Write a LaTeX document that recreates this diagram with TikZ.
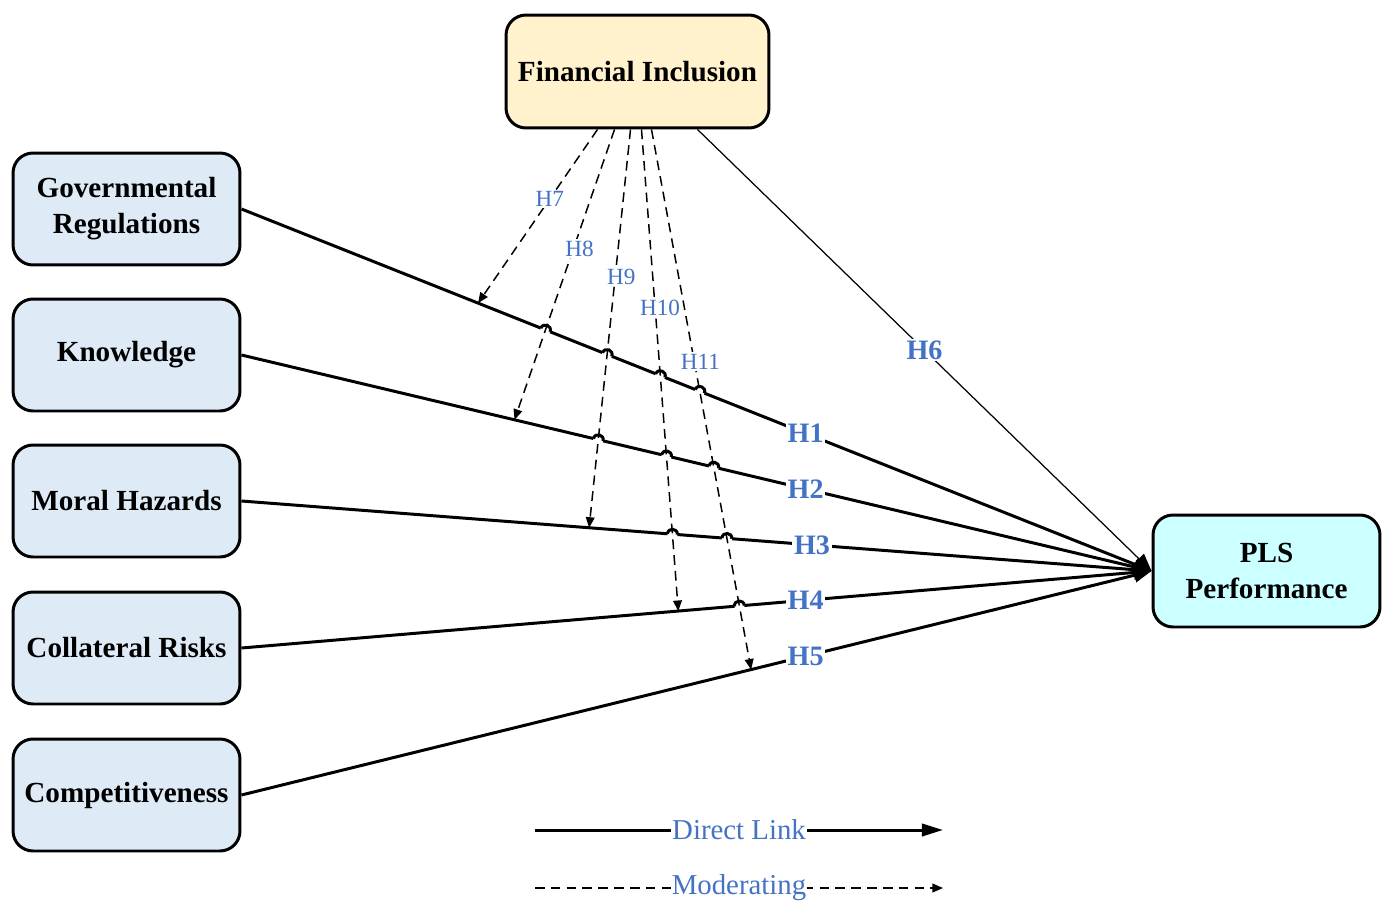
\documentclass[tikz,border=0pt]{standalone}
\usepackage{fontspec}
\setmainfont{Liberation Serif}
\usetikzlibrary{arrows.meta,intersections,calc}
\definecolor{hblue}{RGB}{68,114,196}
\definecolor{indepfill}{RGB}{222,235,247}
\definecolor{modfill}{RGB}{255,242,204}
\definecolor{depfill}{RGB}{204,255,255}
\begin{document}
\begin{tikzpicture}[
		x=0.02cm, y=-0.02cm,
		construct/.style={draw, line width=1.7pt, rounded corners=0.4cm, minimum width=4.54cm, minimum height=2.24cm, align=center, font=\fontsize{16.6}{20.5}\selectfont\bfseries},
		indep/.style={construct, fill=indepfill},
		direct/.style={line width=1.7pt, -{Triangle[length=10pt,width=8pt]}},
		moderate/.style={line width=0.85pt, dash pattern=on 5.5pt off 3.5pt, -{Triangle[length=6pt,width=5pt]}},
		hlabel/.style={fill=white, inner sep=1pt, text=hblue, font=\fontsize{16}{18}\selectfont\bfseries},
		mlabel/.style={fill=white, inner sep=1pt, text=hblue, font=\fontsize{13.2}{15}\selectfont},
		legendtxt/.style={fill=white, inner sep=0.5pt, text=hblue, font=\fontsize{16.4}{19}\selectfont}
	]
		\useasboundingbox (0,0) rectangle (1384,903);
		\node[construct, fill=modfill, minimum width=5.26cm, minimum height=2.26cm] (fi) at (637.5,71.5) {Financial Inclusion};
		\node[indep] (gov) at (126.5,209) {Governmental\\Regulations};
		\node[indep] (know) at (126.5,355) {Knowledge};
		\node[indep] (moral) at (126.5,501) {Moral Hazards};
		\node[indep] (coll) at (126.5,648) {Collateral Risks};
		\node[indep] (comp) at (126.5,795) {Competitiveness};
		\node[construct, fill=depfill] (pls) at (1266.5,571) {PLS\\Performance};
		\foreach \k/\dx in {6/60,7/-40,8/-23,9/-7,10/4,11/14}
			\coordinate (f\k) at ($(fi.south)+(\dx,0)$);
		\draw[direct, name path=gov] (gov.east) -- coordinate[pos=0.26] (t7) node[hlabel, pos=0.62] {H1} (pls.west);
		\draw[direct, name path=know] (know.east) -- coordinate[pos=0.30] (t8) node[hlabel, pos=0.62] {H2} (pls.west);
		\draw[direct, name path=moral] (moral.east) -- coordinate[pos=0.382] (t9) node[hlabel, pos=0.627] {H3} (pls.west);
		\draw[direct, name path=coll] (coll.east) -- coordinate[pos=0.48] (t10) node[hlabel, pos=0.62] {H4} (pls.west);
		\draw[direct, name path=comp] (comp.east) -- coordinate[pos=0.56] (t11) node[hlabel, pos=0.62] {H5} (pls.west);
		\draw[line width=0.7pt, -{Triangle[length=10pt,width=8pt]}] (f6) -- node[hlabel, pos=0.5] {H6} (pls.west);
		\path[name path=m8] (f8) -- (t8);
		\path[name path=m9] (f9) -- (t9);
		\path[name path=m10] (f10) -- (t10);
		\path[name path=m11] (f11) -- (t11);
		\foreach \a/\b in {gov/8,gov/9,gov/10,gov/11,know/9,know/10,know/11,moral/10,moral/11,coll/11}{
			\path[name intersections={of={\a} and m\b, by=h\a\b}];
			\draw[white, line width=3.4pt] ($(h\a\b)!2.8pt!(\a.east)$) -- ($(h\a\b)!2.8pt!(pls.west)$);
		}
		\draw[moderate] (f7) -- node[mlabel, pos=0.4] {H7} (t7);
		\draw[moderate] (f8) -- node[mlabel, pos=0.41, xshift=0.12cm] {H8} (t8);
		\draw[moderate] (f9) -- node[mlabel, pos=0.37, xshift=0.12cm] {H9} (t9);
		\draw[moderate] (f10) -- node[mlabel, pos=0.37, xshift=0.1cm] {H10} (t10);
		\draw[moderate] (f11) -- node[mlabel, pos=0.43, xshift=0.12cm] {H11} (t11);
		\foreach \a/\b in {gov/8,gov/9,gov/10,gov/11,know/9,know/10,know/11,moral/10,moral/11,coll/11}
			\draw[line width=1.7pt] ($(h\a\b)!2.8pt!(\a.east)$) to[bend left=90, looseness=1.7] ($(h\a\b)!2.8pt!(pls.west)$);
		\coordinate (dla) at (535,830);
		\coordinate (dlb) at (943,830);
		\coordinate (mla) at (535,888);
		\coordinate (mlb) at (943,888);
		\draw[direct, -{Triangle[length=12pt,width=7pt]}] (dla) -- node[legendtxt] {Direct Link} (dlb);
		\draw[moderate] (mla) -- node[legendtxt] {Moderating} (mlb);
	\end{tikzpicture}
\end{document}
